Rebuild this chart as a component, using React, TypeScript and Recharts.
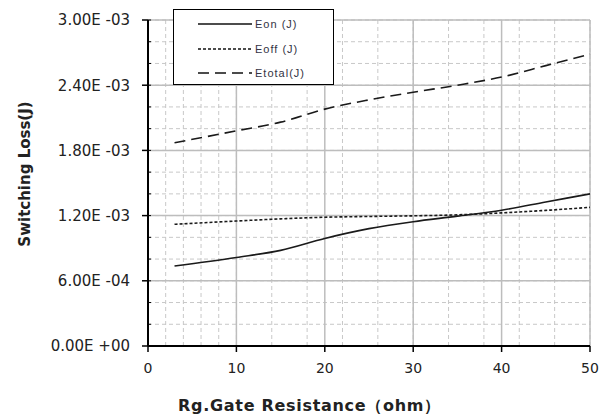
import React from 'react';
import {
  LineChart,
  Line,
  XAxis,
  YAxis,
  CartesianGrid,
  Legend,
} from 'recharts';

// gate resistance (ohm)
const resistance = [3, 10, 15, 20, 25, 30, 35, 40, 45, 50];
// switching losses (J)
const eon = [0.000736, 0.000815, 0.00088, 0.00099, 0.00108, 0.001144, 0.001195, 0.00125, 0.001325, 0.0014];
const eoff = [0.00112, 0.00115, 0.00117, 0.001185, 0.001192, 0.001198, 0.001207, 0.001225, 0.001248, 0.001276];
const etotal = [0.00187, 0.00198, 0.00206, 0.00218, 0.002265, 0.002335, 0.0024, 0.002475, 0.00258, 0.002686];

const seriesOrder = ['Eon (J)', 'Eoff (J)', 'Etotal(J)'];

const xTicks = [0, 10, 20, 30, 40, 50];
const xMinorTicks = [0, 2, 4, 6, 8, 10, 12, 14, 16, 18, 20, 22, 24, 26, 28, 30, 32, 34, 36, 38, 40, 42, 44, 46, 48, 50];
const yTicks = [0, 0.0006, 0.0012, 0.0018, 0.0024, 0.003];
const yMinorTicks = [
  0, 0.0002, 0.0004, 0.0006, 0.0008, 0.001, 0.0012, 0.0014, 0.0016, 0.0018,
  0.002, 0.0022, 0.0024, 0.0026, 0.0028, 0.003,
];

const data = resistance.map((r, i) => ({
  r,
  eon: eon[i],
  eoff: eoff[i],
  etotal: etotal[i],
}));

const FONT = '"DejaVu Sans", Verdana, sans-serif';

function fmtSci(v: number) {
  const [m, e] = v.toExponential(2).split('e');
  const sign = e[0];
  const digits = e.slice(1).padStart(2, '0');
  return `${m}E ${sign}${digits}`;
}

function LegendBox({ payload }: any) {
  const items = [...(payload || [])].sort(
    (a: any, b: any) => seriesOrder.indexOf(a.value) - seriesOrder.indexOf(b.value)
  );
  return (
    <div
      style={{
        position: 'relative',
        width: 161,
        minWidth: 161,
        height: 76,
        background: '#fff',
        border: '1.5px solid #000',
        boxSizing: 'border-box',
      }}
    >
      {items.map((entry: any, i: number) => (
        <div
          key={entry.value}
          style={{
            position: 'absolute',
            left: 0,
            top: 2 + i * 24.5,
            width: 160,
            height: 24,
            whiteSpace: 'nowrap',
          }}
        >
          <svg
            width={80}
            height={24}
            style={{ position: 'absolute', left: 0, top: 0 }}
          >
            <line
              x1={24}
              x2={78}
              y1={12}
              y2={12}
              stroke="#111"
              strokeWidth={1.4}
              strokeDasharray={entry.payload?.strokeDasharray}
            />
          </svg>
          <span
            style={{
              position: 'absolute',
              left: 81,
              top: 5,
              fontFamily: '"Liberation Sans", Arial, sans-serif',
              fontSize: 11,
              lineHeight: '14px',
              letterSpacing: 1,
              color: '#334',
            }}
          >
            {entry.value}
          </span>
        </div>
      ))}
    </div>
  );
}

export default function App() {
  return (
    <div style={{ position: 'absolute', left: 0, top: 0, background: '#fff' }}>
      <LineChart
        width={614}
        height={418}
        data={data}
        margin={{ top: 20, right: 24, left: 0, bottom: 0 }}
      >
        <XAxis
          xAxisId="minor"
          dataKey="r"
          type="number"
          domain={[0, 50]}
          ticks={xMinorTicks}
          hide
        />
        <YAxis
          yAxisId="minor"
          dataKey="etotal"
          type="number"
          domain={[0, 0.003]}
          ticks={yMinorTicks}
          mirror
          axisLine={false}
          tickSize={3}
          tickLine={{ stroke: '#000' }}
          tickFormatter={() => ''}
        />
        <CartesianGrid
          xAxisId="minor"
          yAxisId="minor"
          stroke="#c8c8c8"
          strokeDasharray="4 3"
        />
        <CartesianGrid stroke="#bdbdbd" strokeWidth={1.5} />
        <XAxis
          dataKey="r"
          type="number"
          domain={[0, 50]}
          ticks={xTicks}
          height={72}
          axisLine={{ stroke: '#000', strokeWidth: 2 }}
          tickLine={{ stroke: '#000', strokeWidth: 1.5 }}
          tickSize={6}
          tickMargin={11}
          tick={{ fill: '#222', fontSize: 14, fontFamily: FONT }}
          label={({ viewBox }: any) => (
            <text
              x={viewBox.x + 30}
              y={viewBox.y + 65}
              fontFamily={FONT}
              fontWeight="bold"
              fontSize={16}
              letterSpacing={0.7}
              fill="#222"
            >
              Rg.Gate Resistance（ohm）
            </text>
          )}
        />
        <YAxis
          type="number"
          domain={[0, 0.003]}
          ticks={yTicks}
          width={148}
          axisLine={{ stroke: '#000', strokeWidth: 2 }}
          tickLine={{ stroke: '#000', strokeWidth: 1.5 }}
          tickSize={6}
          tickMargin={12}
          tickFormatter={fmtSci}
          tick={{ fill: '#222', fontSize: 15, fontFamily: FONT }}
          label={({ viewBox }: any) => (
            <text
              x={25}
              y={viewBox.y + viewBox.height / 2 - 9}
              transform={`rotate(-90 25 ${viewBox.y + viewBox.height / 2 - 9})`}
              textAnchor="middle"
              dominantBaseline="central"
              fontFamily={FONT}
              fontWeight="bold"
              fontSize={15}
              fill="#222"
            >
              Switching Loss(J)
            </text>
          )}
        />
        <Legend
          layout="vertical"
          align="center"
          verticalAlign="middle"
          content={<LegendBox />}
          wrapperStyle={{ position: 'absolute', left: 173, top: 9, width: 161 }}
        />
        <Line
          dataKey="eon"
          name="Eon (J)"
          type="monotone"
          stroke="#1a1a1a"
          strokeWidth={1.6}
          dot={false}
          isAnimationActive={false}
        />
        <Line
          dataKey="eoff"
          name="Eoff (J)"
          type="monotone"
          stroke="#1a1a1a"
          strokeWidth={1.6}
          strokeDasharray="3 2"
          dot={false}
          isAnimationActive={false}
        />
        <Line
          dataKey="etotal"
          name="Etotal(J)"
          type="monotone"
          stroke="#1a1a1a"
          strokeWidth={1.6}
          strokeDasharray="11 6"
          dot={false}
          isAnimationActive={false}
        />
      </LineChart>
    </div>
  );
}
